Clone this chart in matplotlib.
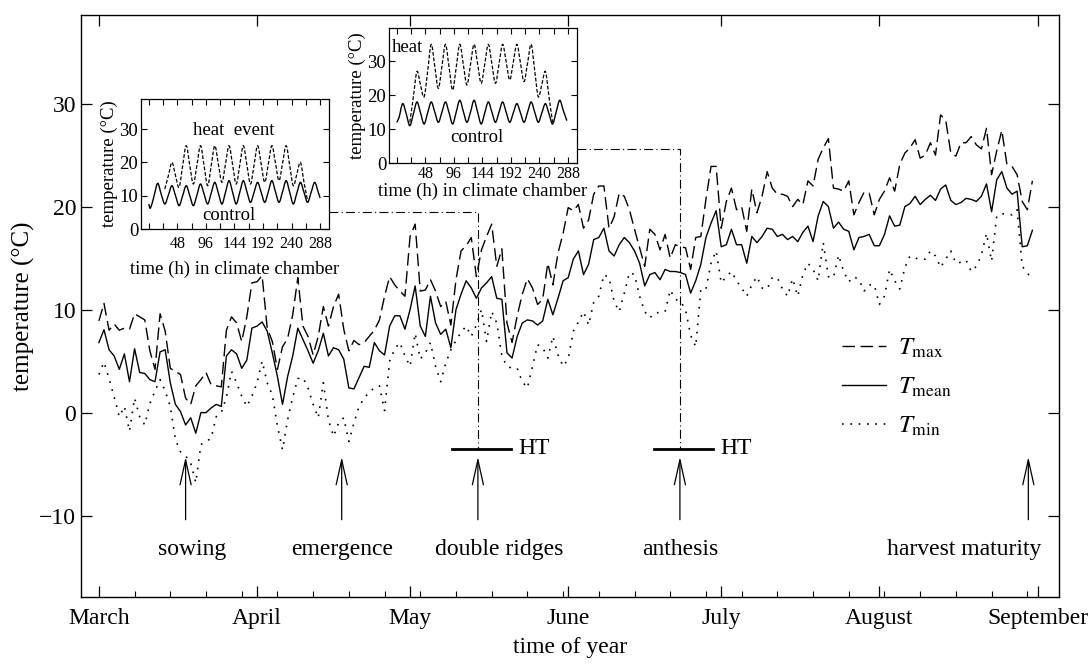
import numpy as np
import matplotlib
matplotlib.use("Agg")
from matplotlib import pyplot as plt
from matplotlib.path import Path
from matplotlib.patches import PathPatch

plt.rcParams["font.family"] = ["Liberation Serif", "DejaVu Serif"]
plt.rcParams["mathtext.fontset"] = "stix"

# daily weather, day 0 = 1 March
t_max = [8.9, 10.6, 8.0, 8.6, 8.0, 8.2, 8.1, 9.6, 9.3, 9.0,
         6.0, 4.2, 9.6, 7.9, 4.3, 4.0, 3.7, 1.4, 0.8, 2.6,
         3.2, 3.9, 2.7, 2.6, 2.5, 8.0, 9.3, 8.7, 6.9, 9.3,
         12.6, 12.7, 13.3, 8.2, 6.9, 4.2, 6.4, 7.2, 9.5, 13.1,
         8.4, 7.4, 5.6, 7.4, 10.3, 8.4, 10.3, 11.5, 8.1, 6.0,
         7.0, 6.6, 6.8, 7.4, 8.0, 9.0, 11.3, 13.2, 12.4, 11.8,
         11.3, 17.1, 18.3, 11.8, 11.9, 12.9, 11.8, 10.3, 10.8, 8.5,
         12.9, 15.7, 16.2, 17.0, 13.2, 15.8, 17.1, 18.3, 14.2, 15.9,
         8.7, 6.8, 9.4, 11.5, 13.0, 12.1, 10.5, 11.0, 14.5, 12.4,
         15.5, 17.4, 19.9, 19.6, 20.2, 17.9, 18.7, 21.2, 22.0, 22.0,
         17.9, 19.0, 21.3, 21.0, 19.7, 17.8, 16.0, 14.2, 17.8, 17.3,
         15.8, 17.3, 15.0, 16.3, 16.1, 16.0, 13.9, 17.0, 17.1, 20.7,
         23.9, 23.9, 17.9, 20.5, 21.8, 19.7, 20.0, 17.6, 21.7, 19.4,
         21.0, 23.4, 21.8, 21.2, 21.2, 21.0, 20.0, 20.7, 20.2, 22.5,
         22.0, 24.6, 25.7, 26.6, 21.8, 21.7, 21.5, 22.5, 19.2, 20.4,
         21.4, 21.3, 19.2, 20.7, 21.5, 22.8, 21.5, 24.1, 25.2, 25.7,
         26.5, 24.7, 25.0, 26.2, 25.0, 28.9, 28.4, 25.2, 24.9, 26.2,
         26.2, 26.8, 26.0, 25.6, 27.6, 23.1, 25.4, 27.4, 24.1, 23.9,
         23.1, 20.5, 19.7, 22.5]
t_mean = [6.8, 8.05, 6.1, 5.5, 4.2, 5.7, 3.0, 6.2, 3.9, 3.8,
          3.2, 3.0, 5.9, 6.1, 2.9, 0.8, 0.1, -1.2, -0.5, -2.0,
          0.0, 0.0, 0.45, 0.8, 0.6, 5.5, 6.1, 5.7, 4.3, 5.1,
          8.2, 8.4, 8.8, 7.9, 5.8, 3.5, 0.8, 3.5, 5.5, 8.2,
          7.1, 6.0, 4.8, 6.0, 7.7, 5.5, 6.3, 6.1, 5.2, 2.4,
          2.3, 3.4, 4.5, 4.4, 6.8, 6.0, 5.6, 8.4, 9.4, 9.4,
          8.1, 10.0, 12.3, 8.4, 7.4, 11.3, 8.7, 7.6, 8.1, 6.3,
          10.0, 11.5, 12.8, 12.1, 11.1, 12.1, 12.6, 13.2, 11.1, 11.0,
          5.8, 5.3, 7.4, 8.7, 9.0, 8.9, 8.5, 8.9, 11.0, 9.5,
          11.1, 12.8, 13.1, 14.9, 15.7, 13.4, 14.4, 16.8, 17.0, 17.9,
          15.7, 15.2, 16.3, 17.0, 16.5, 15.7, 14.5, 12.3, 13.4, 13.6,
          12.9, 13.9, 13.7, 13.7, 13.6, 13.4, 11.6, 12.8, 14.4, 17.0,
          18.4, 19.6, 16.1, 16.3, 17.8, 16.3, 16.3, 14.5, 17.1, 16.5,
          17.1, 17.9, 17.8, 17.1, 17.3, 16.8, 17.1, 16.6, 17.5, 18.1,
          16.6, 19.1, 20.5, 20.0, 17.9, 18.5, 17.8, 17.6, 15.8, 17.0,
          17.1, 17.3, 16.2, 16.2, 17.3, 19.1, 18.1, 18.2, 20.0, 20.3,
          21.0, 20.2, 20.7, 21.1, 20.6, 21.7, 22.1, 20.6, 20.2, 20.4,
          20.8, 20.7, 20.5, 21.0, 22.2, 19.5, 22.6, 23.4, 21.8, 21.2,
          21.5, 16.1, 16.2, 17.7]
t_min = [3.7, 4.9, 3.3, 1.5, -0.4, 0.6, -1.8, 1.4, -0.4, -1.2,
         0.9, 2.1, 3.2, 2.1, 0.6, -2.6, -3.8, -4.2, -4.9, -6.8,
         -3.1, -2.8, -2.5, -0.4, 0.0, 1.5, 4.0, 2.9, 1.6, 0.6,
         1.6, 2.9, 5.0, 2.9, 1.7, -1.3, -3.6, -0.7, 1.5, 3.3,
         3.4, 2.4, 0.8, -0.5, 2.9, -0.7, -2.3, -1.0, -0.5, -2.8,
         -1.0, 0.6, 1.4, 2.0, 2.4, 2.6, 0.2, 5.0, 6.2, 6.8,
         5.5, 4.5, 7.7, 5.2, 5.8, 6.8, 4.5, 3.0, 4.8, 6.1,
         7.0, 7.8, 8.4, 7.4, 8.5, 10.0, 6.9, 9.8, 8.7, 5.5,
         4.5, 4.3, 4.3, 3.0, 2.4, 4.5, 6.6, 6.3, 5.3, 7.4,
         5.6, 4.5, 5.2, 7.9, 8.8, 9.8, 8.5, 10.7, 11.3, 13.4,
         13.1, 10.8, 9.8, 11.6, 13.6, 13.4, 11.3, 9.8, 9.2, 9.7,
         9.7, 9.8, 11.9, 11.0, 10.8, 10.0, 7.5, 6.4, 12.0, 12.0,
         14.5, 15.7, 12.6, 13.2, 13.7, 12.8, 12.1, 11.3, 12.4, 13.2,
         12.1, 12.0, 13.1, 13.1, 12.0, 11.3, 13.0, 11.3, 13.4, 14.5,
         13.9, 12.8, 16.5, 13.2, 13.1, 15.3, 13.7, 12.7, 13.2, 12.9,
         11.8, 12.4, 12.4, 10.5, 11.3, 13.9, 12.8, 12.0, 14.1, 15.2,
         15.0, 14.9, 14.9, 15.7, 15.2, 14.1, 14.9, 15.7, 14.5, 14.6,
         14.8, 13.7, 14.2, 15.3, 17.4, 14.7, 19.1, 19.3, 19.3, 19.2,
         19.7, 14.2, 13.6, 12.8]
days = np.arange(len(t_max))

month_days = [0, 31, 61, 92, 122, 153, 184]
month_names = ["March", "April", "May", "June", "July", "August", "September"]

stages = ["sowing", "emergence", "double ridges", "anthesis", "harvest maturity"]
stage_days = [17, 47.6, 74.3, 113.9, 182.2]
heat_stage_days = [74.3, 113.9]

# climate chamber runs (hours)
h1_control = np.r_[0, np.arange(3, 286, 6), 288]
c1_control = [7.5, 6.3, 10.0, 13.7, 10.4, 7.5, 10.2, 13.0, 10.0, 7.0,
              10.0, 13.0, 10.0, 7.0, 10.2, 13.5, 10.5, 7.5, 10.8, 14.0,
              10.8, 7.5, 11.0, 14.5, 11.0, 7.5, 11.0, 14.5, 11.2, 8.0,
              11.0, 14.0, 11.0, 8.0, 11.2, 14.5, 11.2, 8.0, 11.2, 14.5,
              11.0, 7.5, 10.8, 14.0, 11.0, 8.0, 11.0, 14.0, 11.0, 9.3]
h1_heat = np.arange(27, 268, 6)
c1_heat = [12.0, 16.0, 20.0, 16.0, 12.5, 19.0, 25.0, 19.0, 13.5, 19.2,
           25.0, 19.0, 13.0, 19.0, 25.0, 19.5, 14.0, 19.5, 25.0, 19.2,
           13.5, 19.2, 25.0, 19.2, 13.5, 19.2, 25.0, 19.5, 14.0, 19.5,
           25.0, 19.8, 14.5, 19.8, 25.0, 19.0, 13.0, 16.5, 20.0, 14.0,
           8.5]
h2_control = np.r_[0, np.arange(4, 287, 6)]
c2_control = [12.0, 13.5, 17.5, 14.5, 11.0, 14.5, 18.0, 14.8, 11.5, 14.8,
              18.0, 15.0, 12.0, 15.0, 18.0, 14.8, 11.5, 15.0, 18.5, 15.2,
              12.0, 15.0, 18.5, 15.0, 11.5, 14.8, 18.0, 15.0, 12.0, 15.0,
              18.0, 15.0, 12.0, 14.8, 17.5, 14.8, 12.0, 15.0, 18.0, 15.0,
              12.0, 14.8, 17.5, 14.5, 11.5, 15.0, 18.5, 15.5, 12.5]
h2_heat = np.arange(22, 263, 6)
c2_heat = [12.0, 19.5, 27.0, 23.0, 19.5, 27.0, 35.0, 28.5, 22.0, 28.5,
           35.0, 28.2, 21.5, 28.2, 35.0, 29.0, 23.0, 29.0, 35.0, 29.2,
           23.5, 29.2, 35.0, 29.2, 23.5, 29.2, 35.0, 29.8, 24.5, 29.8,
           35.0, 29.5, 24.0, 29.5, 35.0, 27.2, 19.5, 23.2, 27.0, 19.5,
           12.0]

FS = 17
FS_IN = 13.5
FS_TICK_IN = 11.5

fig = plt.figure(figsize=(10.89, 6.64), dpi=100)
ax = fig.add_axes([0.0744, 0.1009, 0.898, 0.8765])

ax.plot(days, t_max, color="black", lw=1.0, ls=(0, (9, 4)), label=r"$T_{\mathrm{max}}$")
ax.plot(days, t_mean, color="black", lw=1.0, label=r"$T_{\mathrm{mean}}$")
ax.plot(days, t_min, color="black", lw=1.2, ls=(0, (1, 4)), label=r"$T_{\mathrm{min}}$")

ax.set_xlim(-3.5, 188.2)
ax.set_ylim(-17.9, 38.6)
ax.set_xticks(month_days)
ax.set_xticklabels(month_names)
ax.set_xticks(np.arange(0, 188, 7), minor=True)
ax.set_yticks([-10, 0, 10, 20, 30])
ax.tick_params(direction="in", top=True, right=True, labelsize=FS, length=8, width=0.9)
ax.tick_params(which="minor", direction="in", top=False, length=4, width=0.8)
ax.tick_params(axis="x", pad=8)
for s in ax.spines.values():
    s.set_linewidth(1.0)
ax.set_xlabel("time of year", fontsize=FS, labelpad=6)
ax.set_ylabel("temperature (°C)", fontsize=18, labelpad=3)

label_shift = [1.3, 0, 4.1, 0, -12.6]
for name, d, dx in zip(stages, stage_days, label_shift):
    ax.annotate("", xy=(d, -4.3), xytext=(d, -10.4),
                arrowprops=dict(arrowstyle="->,head_length=1.8,head_width=0.4",
                                color="black", lw=0.9, shrinkA=0, shrinkB=0),
                annotation_clip=False)
    ax.text(d + dx, -13.3, name, ha="center", va="center", fontsize=FS)

# heat treatment marks and links to the insets
for d, y_link, x_link in zip(heat_stage_days, [19.5, 25.6], [45.1, 93.7]):
    ax.plot([d - 5.0, d + 6.5], [-3.5, -3.5], color="black", lw=2.0)
    ax.text(d + 7.9, -3.5, "HT", ha="left", va="center", fontsize=FS)
    ax.plot([x_link, d, d], [y_link, y_link, -3.5], color="black", lw=0.8,
            ls=(0, (8, 3, 1, 3)))

ax.legend(loc="upper left", bbox_to_anchor=(0.778, 0.447), frameon=False,
          fontsize=18, handlelength=1.75, handletextpad=0.5, labelspacing=0.62,
          borderpad=0, borderaxespad=0)


def smooth_curve(ins, x, y, **kw):
    # pass a smooth (Catmull-Rom) curve through the read points
    x = np.asarray(x, float)
    y = np.asarray(y, float)
    verts = [(x[0], y[0])]
    codes = [Path.MOVETO]
    n = len(x)
    for i in range(n - 1):
        a = max(i - 1, 0)
        b = min(i + 2, n - 1)
        c1 = (x[i] + (x[i + 1] - x[a]) / 6, y[i] + (y[i + 1] - y[a]) / 6)
        c2 = (x[i + 1] - (x[b] - x[i]) / 6, y[i + 1] - (y[b] - y[i]) / 6)
        verts += [c1, c2, (x[i + 1], y[i + 1])]
        codes += [Path.CURVE4] * 3
    ins.add_patch(PathPatch(Path(verts, codes), fill=False, color="black", **kw))


def chamber(rect, ylim, h_c, c_c, h_h, c_h, tick_pad, label_pad):
    ins = fig.add_axes(rect)
    smooth_curve(ins, h_h, c_h, lw=0.9, ls=(0, (3, 1.5)))
    smooth_curve(ins, h_c, c_c, lw=1.0)
    ins.set_xlim(-13, 303)
    ins.set_ylim(*ylim)
    ticks = list(range(0, 289, 24))
    ins.set_xticks(ticks)
    ins.set_xticklabels([str(h) if h > 0 and h % 48 == 0 else "" for h in ticks])
    ins.set_yticks([0, 10, 20, 30])
    ins.tick_params(direction="in", top=True, right=True, labelsize=FS_TICK_IN, length=4,
                    width=0.8, pad=2)
    ins.tick_params(axis="x", pad=tick_pad)
    ins.tick_params(axis="y", labelsize=FS_IN)
    ins.set_xlabel("time (h) in climate chamber", fontsize=FS_IN, labelpad=label_pad)
    ins.set_ylabel("temperature (°C)", fontsize=FS_IN, labelpad=1)
    for s in ins.spines.values():
        s.set_linewidth(0.9)
    return ins


ins1 = chamber([0.1295, 0.6551, 0.1726, 0.1958], (0, 39), h1_control, c1_control,
               h1_heat, c1_heat, 5, 6)
ins1.text(143, 29.5, "heat  event", ha="center", va="center", fontsize=FS_IN)
ins1.text(134, 4, "control", ha="center", va="center", fontsize=FS_IN)

ins2 = chamber([0.3572, 0.7545, 0.1726, 0.2033], (0, 39.8), h2_control, c2_control,
               h2_heat, c2_heat, 2, 1)
ins2.text(-9, 34, "heat", ha="left", va="center", fontsize=FS_IN)
ins2.text(134, 7.4, "control", ha="center", va="center", fontsize=FS_IN)

fig.savefig("out.png", dpi=100)
